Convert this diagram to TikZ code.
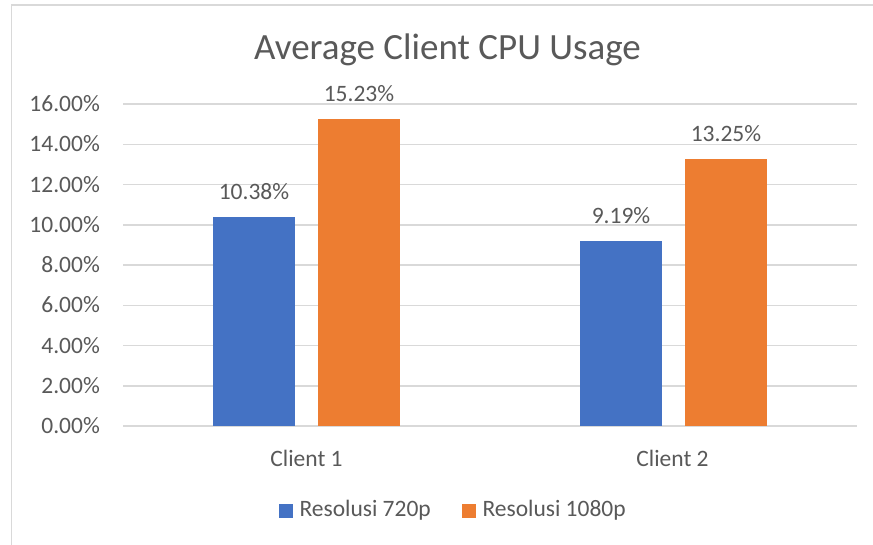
\documentclass[tikz,border=0pt]{standalone}
\usepackage{fontspec}
\setmainfont{Carlito}
\definecolor{txt}{HTML}{595959}
\definecolor{gridc}{HTML}{D9D9D9}
\definecolor{blueb}{HTML}{4472C4}
\definecolor{orangeb}{HTML}{ED7D31}
\tikzset{
  gridline/.style={draw=gridc, line width=1.5pt},
  lbl/.style={text=txt, inner sep=0pt, font=\fontsize{23.5}{28}\selectfont},
  titlelbl/.style={text=txt, inner sep=0pt, font=\fontsize{37}{44}\selectfont},
  barblue/.style={fill=blueb},
  barorange/.style={fill=orangeb},
}
\newcommand{\yv}[1]{426-20.125*#1}
\begin{document}
\begin{tikzpicture}[x=1pt,y=-1pt]
\useasboundingbox (0,0) rectangle (873,544);
\fill[white] (0,0) rectangle (873,544);
% chart frame
\draw[draw=gridc, line width=1.5pt] (11.7,560) -- (11.7,5) -- (890,5);
% title
\node[titlelbl, anchor=base] (title) at (447.5,59) {Average Client CPU Usage};
% gridlines and tick labels
\foreach \i/\t in {0/0.00,1/2.00,2/4.00,3/6.00,4/8.00,5/10.00,6/12.00,7/14.00,8/16.00}{
  \draw[gridline] (123,426-40.25*\i) -- (857,426-40.25*\i);
  \node[lbl, anchor=base east] (tick\i) at (100,426-40.25*\i+7.7) {\t\%};
}
% bars
\fill[barblue]   (213,426) rectangle (295,{\yv{10.38}});
\fill[barorange] (318,426) rectangle (400,{\yv{15.23}});
\fill[barblue]   (580,426) rectangle (662,{\yv{9.19}});
\fill[barorange] (685,426) rectangle (767,{\yv{13.25}});
% data labels
\node[lbl, anchor=base] (d11) at (254,{\yv{10.38}-17.7}) {10.38\%};
\node[lbl, anchor=base] (d12) at (359,{\yv{15.23}-17.7}) {15.23\%};
\node[lbl, anchor=base] (d21) at (621,{\yv{9.19}-17.7}) {9.19\%};
\node[lbl, anchor=base] (d22) at (726,{\yv{13.25}-17.7}) {13.25\%};
% category labels
\node[lbl, anchor=base] (c1) at (306.5,466) {Client 1};
\node[lbl, anchor=base] (c2) at (672.5,466) {Client 2};
% legend
\fill[barblue] (279.3,504.3) rectangle (292.7,517.7);
\node[lbl, anchor=base west] (leg1) at (299.3,516) {Resolusi 720p};
\fill[barorange] (462.3,504.3) rectangle (476,517.7);
\node[lbl, anchor=base west] (leg2) at (482.3,516) {Resolusi 1080p};
\end{tikzpicture}
\end{document}
